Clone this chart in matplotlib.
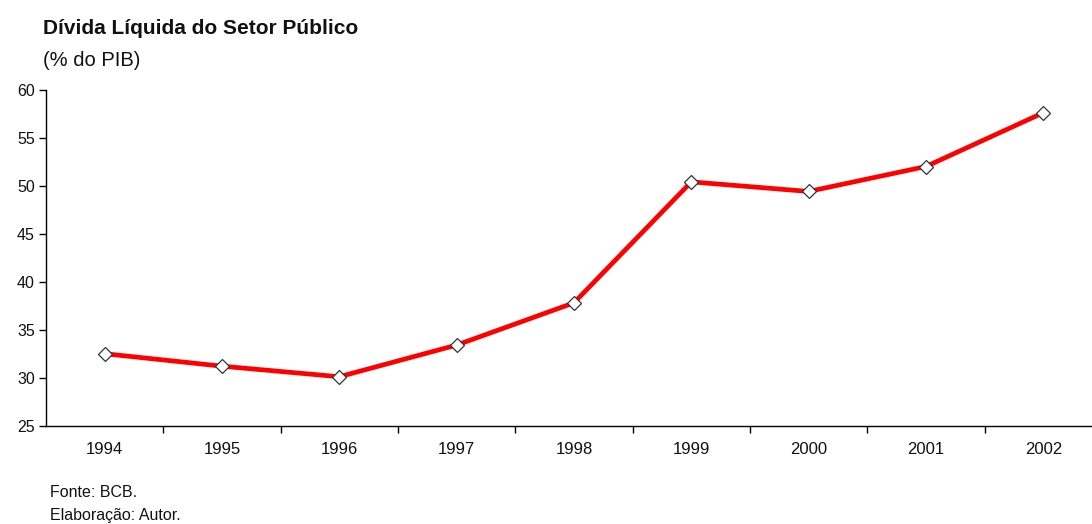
import matplotlib.pyplot as plt

plt.rcParams['font.family'] = ['Liberation Sans', 'DejaVu Sans']

# Dívida líquida do setor público, % do PIB
anos = ['1994', '1995', '1996', '1997', '1998', '1999', '2000', '2001', '2002']
divida = [32.5, 31.2, 30.1, 33.4, 37.8, 50.4, 49.4, 52.0, 57.6]
y_ticks = [25, 30, 35, 40, 45, 50, 55, 60]

fig = plt.figure(figsize=(10.92, 5.24), dpi=100)
ax = fig.add_axes([0.0421, 0.1876, 0.967, 0.6412])

x = range(len(anos))
ax.plot(x, divida, color='#ff0000', linewidth=3.4, marker='D', markersize=7.5,
        markerfacecolor='white', markeredgecolor='#333333', markeredgewidth=0.9,
        solid_joinstyle='round', zorder=3)

ax.set_ylim(25, 60)
ax.set_yticks(y_ticks)
ax.set_xlim(-0.5, len(anos) - 0.5)

# year labels centred on categories, tick marks on the boundaries
ax.set_xticks(list(x))
ax.set_xticklabels(anos)
ax.set_xticks([i + 0.5 for i in range(len(anos) - 1)], minor=True)
ax.tick_params(axis='x', which='major', length=0, pad=12, labelsize=12, labelcolor='#111111')
ax.tick_params(axis='x', which='minor', length=5, width=1, direction='out')
ax.tick_params(axis='y', length=5, width=1, direction='out', pad=3, labelsize=11.5,
               labelcolor='#111111')

for side in ['top', 'right']:
    ax.spines[side].set_visible(False)
for side in ['left', 'bottom']:
    ax.spines[side].set_linewidth(1)
    ax.spines[side].set_color('black')

fig.text(0.039, 0.945, 'Dívida Líquida do Setor Público', fontsize=15,
         fontweight='bold', ha='left', va='center', color='#111111')
fig.text(0.039, 0.884, '(% do PIB)', fontsize=14.5, ha='left', va='center',
         color='#111111')
fig.text(0.046, 0.060, 'Fonte: BCB.', fontsize=11.5, ha='left', va='center',
         color='#111111')
fig.text(0.046, 0.017, 'Elaboração: Autor.', fontsize=11.5, ha='left', va='center',
         color='#111111')

fig.savefig('out.png', dpi=100)
